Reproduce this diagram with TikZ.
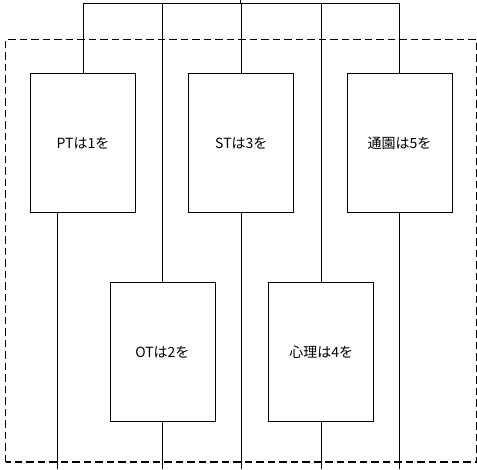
\documentclass[tikz,border=0pt]{standalone}
\usepackage{fontspec}
\setmainfont{Noto Sans CJK JP}
\usetikzlibrary{positioning}
\tikzset{unit/.style={draw, line width=0.8pt, minimum width=105pt, minimum height=139pt, inner sep=0pt, font=\fontsize{14}{16}\selectfont}}
\tikzset{fence/.style={dash pattern=on 7.5pt off 4pt, line width=1.8pt}}

\begin{document}
\begin{tikzpicture}[x=1pt, y=1pt, line width=0.8pt]
            \useasboundingbox (0,0) rectangle (477,469);
            \node (pt)     [unit] at (83,326)                       {PTは1を};
            \node (st)     [unit, right=52.5pt of pt]               {STは3を};
            \node (tsuen)  [unit, right=52.5pt of st]               {通園は5を};
            \node (ot)     [unit, below right=69.6pt and -26.4pt of pt] {OTは2を};
            \node (shinri) [unit, right=53pt of ot]                 {心理は4を};

            \coordinate (feed)  at (240.7,469);
            \coordinate (bus)   at (0,465.5);
            \coordinate (floor) at (0,0);

            \draw (feed) -- (feed |- bus);
            \draw (pt.north |- bus) -- (tsuen.north |- bus);
            \foreach \n in {pt, ot, st, shinri, tsuen}
                \draw (\n.north |- bus) -- (\n.north);
            \foreach \n in {ot, st, shinri, tsuen}
                \draw (\n.south) -- (\n.south |- floor);
            \draw ([xshift=-25.7pt]pt.south) -- ([xshift=-25.7pt]pt.south |- floor);

            \draw [fence] (5.5,6.7) rectangle (476.5,429.5);
        \end{tikzpicture}
\end{document}
